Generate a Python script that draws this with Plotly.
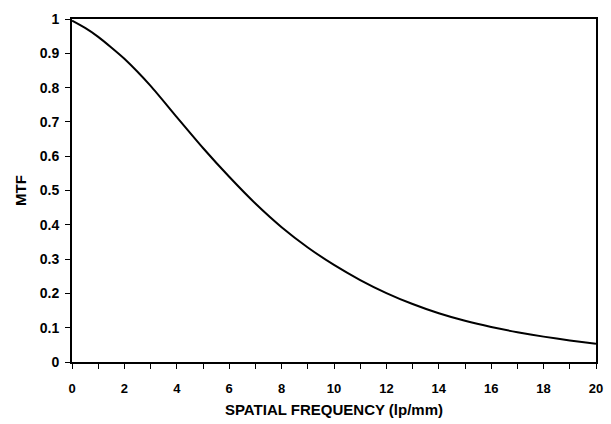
import plotly.graph_objects as go

spatial_freq = [0, 0.5, 1, 1.5, 2, 3, 4, 5, 6, 7, 8, 9, 10, 11, 12, 13, 14, 15, 16, 17, 18, 19, 20]
mtf = [0.995, 0.974, 0.948, 0.917, 0.884, 0.805, 0.714, 0.624, 0.540, 0.462, 0.393, 0.334,
       0.283, 0.239, 0.201, 0.169, 0.142, 0.120, 0.102, 0.087, 0.074, 0.063, 0.053]

x_ticks = list(range(0, 21, 2))
y_ticks = [0, 0.1, 0.2, 0.3, 0.4, 0.5, 0.6, 0.7, 0.8, 0.9, 1]
y_labels = ["0", "0.1", "0.2", "0.3", "0.4", "0.5", "0.6", "0.7", "0.8", "0.9", "1"]

font_family = "Liberation Sans, Arial, sans-serif"

fig = go.Figure()
fig.add_trace(go.Scatter(
    x=spatial_freq, y=mtf, mode="lines",
    line=dict(color="black", width=2, shape="spline", smoothing=0.6),
    showlegend=False, hoverinfo="skip",
))

fig.update_layout(
    width=611, height=424,
    margin=dict(l=72, r=8, t=19, b=59),
    paper_bgcolor="white", plot_bgcolor="white",
    font=dict(family=font_family, color="black"),
)

fig.update_xaxes(
    range=[0, 20], tickvals=x_ticks, ticktext=[str(v) for v in x_ticks],
    showgrid=False, zeroline=False,
    showline=True, linecolor="black", linewidth=2, mirror=True,
    ticks="outside", ticklen=5, tickwidth=1, tickcolor="black",
    minor=dict(dtick=1, ticks="outside", ticklen=5, tickwidth=1, tickcolor="black", showgrid=False),
    tickfont=dict(size=13, weight="bold", family=font_family),
    ticklabelstandoff=8,
    title=dict(text="SPATIAL FREQUENCY (lp/mm)", font=dict(size=15, weight="bold", family=font_family), standoff=10),
)
fig.update_yaxes(
    range=[0, 1], tickvals=y_ticks, ticktext=y_labels,
    showgrid=False, zeroline=False,
    showline=True, linecolor="black", linewidth=2, mirror=True,
    ticks="outside", ticklen=5, tickwidth=1, tickcolor="black",
    tickfont=dict(size=14, weight="bold", family=font_family),
    ticklabelstandoff=3,
    title=dict(text="MTF", font=dict(size=15, weight="bold", family=font_family), standoff=9),
)

fig.write_html("out.html")
